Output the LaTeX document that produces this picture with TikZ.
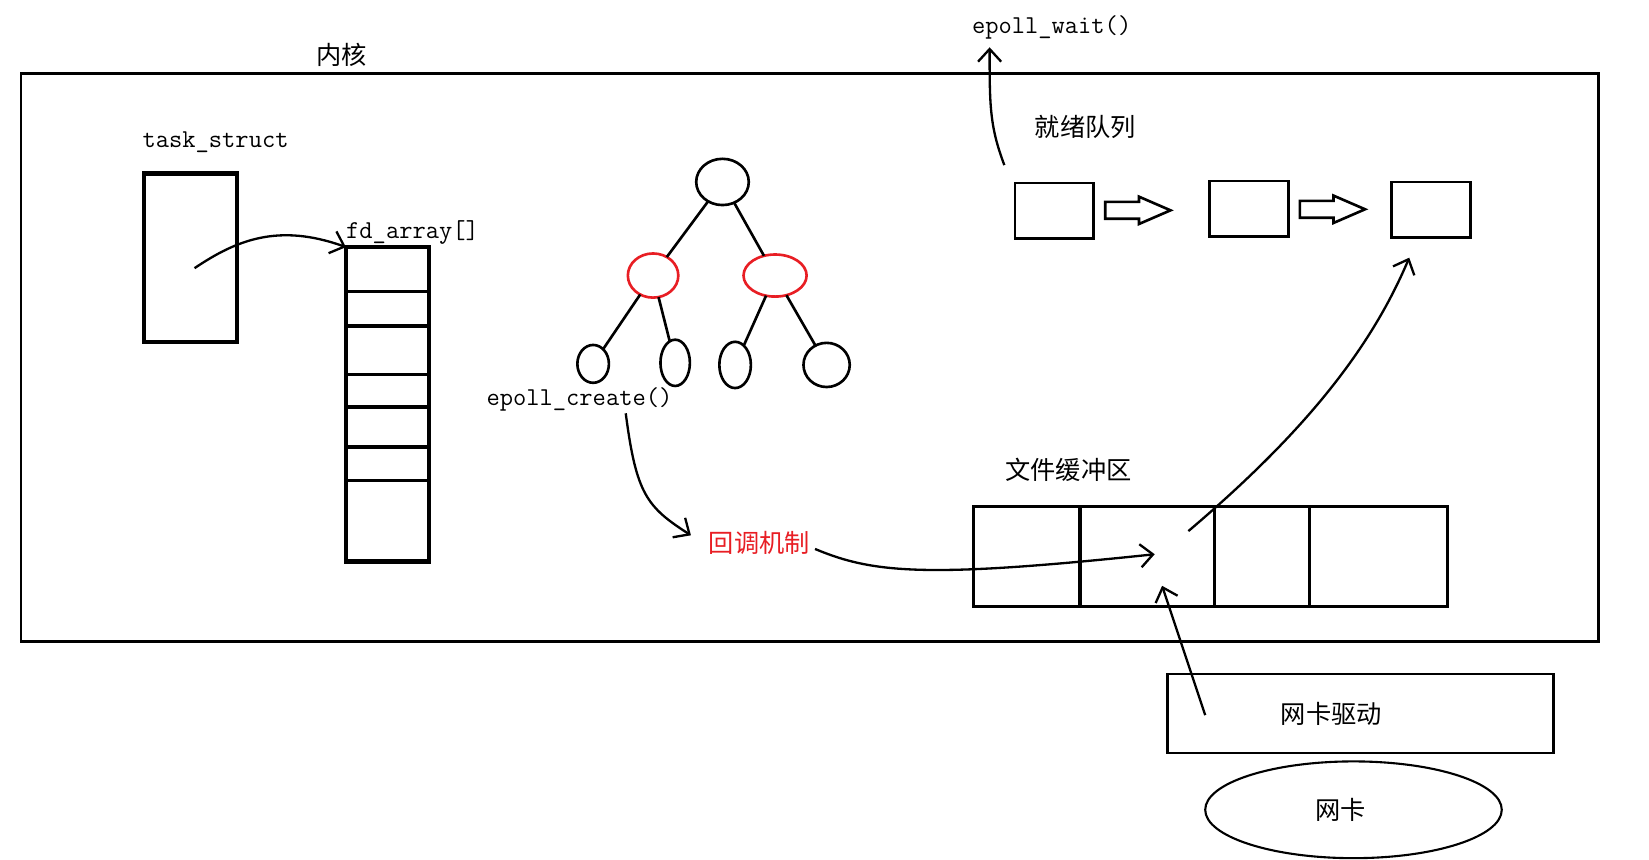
\documentclass[tikz,border=0pt]{standalone}
\usepackage{fontspec}
\newfontfamily\cjk{Noto Sans CJK SC}
\usetikzlibrary{positioning,arrows.meta,shapes.geometric}
\definecolor{cbred}{RGB}{232,30,36}

\begin{document}
\begin{tikzpicture}[
    x=1pt, y=-1pt,
    box/.style={draw, inner sep=0pt, outer sep=0pt, anchor=north west},
    nd/.style={draw, ellipse, inner sep=0pt, outer sep=0pt, line width=2.5pt},
    zh/.style={font=\fontsize{24}{28}\selectfont\cjk, inner sep=0pt},
    code/.style={font=\fontsize{24.5}{28}\selectfont\ttfamily, inner sep=0pt},
    ar/.style={-{Straight Barb[length=12pt,width=22pt]}, line width=2.2pt},
]
\useasboundingbox (0,0) rectangle (1568,817);
% --- kernel frame ---
\node[box, line width=2.5pt, minimum width=1500pt, minimum height=540pt] (kern) at (20,70) {};
\node[zh] (kernlbl) at (325,52) {内核};
% --- task_struct and fd array ---
\node[code] (tslbl) at (205,135) {task\_struct};
\node[box, line width=4pt, minimum width=88pt, minimum height=160pt] (ts) at (137,165) {};
\node[code, anchor=west] (fdlbl) at (329,221) {fd\_array[]};
\node[box, line width=4pt, minimum width=79pt, minimum height=299pt] (fd) at (329,235) {};
\foreach \y in {277,310,356,387,425,457}
  \draw[line width=3pt] (329,\y) -- (408,\y);
\coordinate (tsptr) at (185,255);
\draw[ar] (tsptr) .. controls (225,228) and (265,212) .. (fd.north west);
% --- red-black tree ---
\node[nd, minimum width=50pt, minimum height=44pt] (root) at (687,173) {};
\node[nd, draw=cbred, minimum width=48pt, minimum height=42pt] (rl) at (621,262) {};
\node[nd, draw=cbred, minimum width=60pt, minimum height=40pt] (rr) at (737,262) {};
\node[nd, minimum width=30pt, minimum height=36pt] (l1) at (564,346) {};
\node[nd, minimum width=28pt, minimum height=44pt] (l2) at (642,345) {};
\node[nd, minimum width=30pt, minimum height=44pt] (l3) at (699,347) {};
\node[nd, minimum width=44pt, minimum height=42pt] (l4) at (786,347) {};
\foreach \a/\b in {root/rl, root/rr, rl/l1, rl/l2, rr/l3, rr/l4}
  \draw[line width=2.5pt] (\a) -- (\b);
\node[code] (create) at (551,380) {epoll\_create()};
\node[zh, text=cbred] (cb) at (722,516) {回调机制};
\coordinate (crout) at (595,393);
\coordinate (cbin) at (657,509);
\draw[ar] (crout) .. controls (605,470) and (615,482) .. (cbin);
% --- ready queue ---
\node[zh] (qlbl) at (1032,121) {就绪队列};
\node[box, line width=2.5pt, minimum width=75pt, minimum height=53pt] (q1) at (965,174) {};
\node[box, line width=2.5pt, minimum width=75pt, minimum height=53pt] (q2) at (1150,172) {};
\node[box, line width=2.5pt, minimum width=75pt, minimum height=53pt] (q3) at (1323,173) {};
\foreach \sx/\sy in {1051/200, 1236/199}
  \draw[line width=2.5pt, shift={(\sx,\sy)}]
    (0,-8) -- (32,-8) -- (32,-13) -- (62,0) -- (32,13) -- (32,8) -- (0,8) -- cycle;
\node[code] (wait) at (1000,26) {epoll\_wait()};
\coordinate (qout) at (955,157);
\coordinate (waitin) at (941,45);
\draw[ar] (qout) .. controls (941,120) and (941,100) .. (waitin);
% --- file buffer ---
\node[zh] (buflbl) at (1016,447) {文件缓冲区};
\node[box, line width=3pt, minimum width=101pt, minimum height=95pt] (b1) at (926,482) {};
\node[box, line width=3pt, minimum width=128pt, minimum height=95pt] (b2) at (1027,482) {};
\node[box, line width=3pt, minimum width=90pt, minimum height=95pt] (b3) at (1155,482) {};
\node[box, line width=3pt, minimum width=131pt, minimum height=95pt] (b4) at (1245,482) {};
\coordinate (cbout) at (775,522);
\coordinate (bufin) at (1098,527);
\draw[ar] (cbout) .. controls (830,545) and (880,550) .. (bufin);
\coordinate (bufout) at (1130,505);
\coordinate (q3in) at (1340,245);
\draw[ar] (bufout) .. controls (1230,420) and (1300,340) .. (q3in);
% --- driver and nic ---
\node[box, line width=2.5pt, minimum width=367pt, minimum height=75pt] (drv) at (1110,641) {};
\node[zh] (drvlbl) at (1266,679) {网卡驱动};
\node[nd, line width=2pt, minimum width=282pt, minimum height=92pt, zh] (nic) at (1287,770) {\hspace*{-24pt}网卡};
\coordinate (drvout) at (1146,680);
\coordinate (bufup) at (1105,557);
\draw[ar] (drvout) -- (bufup);
\end{tikzpicture}
\end{document}
